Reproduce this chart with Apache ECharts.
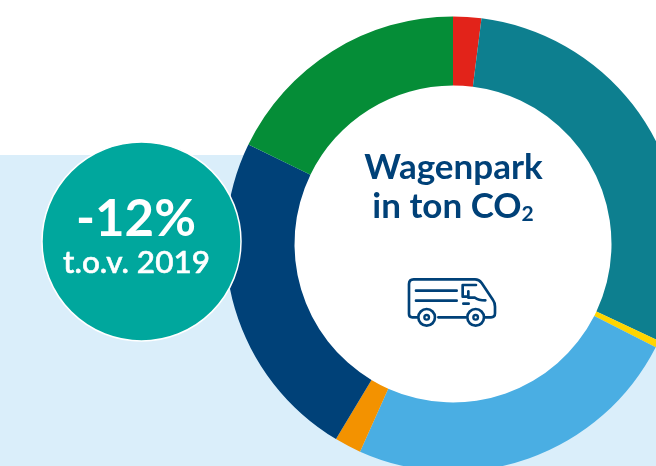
<!DOCTYPE html>
<html><head><meta charset="utf-8">
<style>html,body{margin:0;padding:0;background:#fff}#c{width:656px;height:466px}</style>
<script src="https://cdn.jsdelivr.net/npm/echarts@6/dist/echarts.min.js"></script>
</head><body><div id="c"></div>
<script>
const categories = ['Rood','Petrol','Geel','Lichtblauw','Oranje','Donkerblauw','Groen'];
const values = [2.0, 30.0, 0.5, 24.2, 1.9, 23.6, 17.8];
const colors = ['#E2231A','#0D7F8F','#FFD500','#4AAEE3','#F39200','#004178','#058D37'];
const titleLines = ['Wagenpark','in ton CO'];
const badgeBig = '-12%';
const badgeSmall = 't.o.v. 2019';
const NAVY = '#004178';
const vanPath = 'M232 562H217Q207 562 207 552V462Q207 448 221 448H405Q417 448 425 459L459 510Q465 518 465 530V550Q465 562 453 562H436M295 562H378M228 482H350M228 512H350M408 465H368V500H385V484M385 503H405Q415 511 436 511M370 521H386';
echarts.graphic.registerShape('vanIcon', echarts.graphic.extendPath(vanPath, {}));
const chart = echarts.init(document.getElementById('c'), null, {renderer:'canvas'});
const FONT = 'Lato';
const Z = 11;
chart.setOption({
  animation:false,
  backgroundColor:'#fff',
  graphic:{elements:[
    {type:'rect',z:0,silent:true,shape:{x:0,y:155,width:656,height:311},style:{fill:'#DAEEFA'}},
    {type:'circle',z:1,silent:true,shape:{cx:453,cy:244,r:159},style:{fill:'#fff'}},
    {type:'circle',z:10,silent:true,shape:{cx:141.5,cy:241.5,r:99.5},style:{fill:'#00A79D',stroke:'#fff',lineWidth:1.5}},
    {type:'text',z:Z,silent:true,x:136,y:220,style:{text:badgeBig,fill:'#fff',font:'700 51px '+FONT,align:'center',verticalAlign:'middle'}},
    {type:'text',z:Z,silent:true,x:136.5,y:263,style:{text:badgeSmall,fill:'#fff',stroke:'#fff',lineWidth:0.6,font:'500 31.5px '+FONT,align:'center',verticalAlign:'middle'}},
    {type:'text',z:Z,silent:true,x:453.5,y:168,style:{text:titleLines[0],fill:NAVY,font:'700 35px '+FONT,align:'center',verticalAlign:'middle'}},
    {type:'text',z:Z,silent:true,x:453,y:207,style:{text:'{a|'+titleLines[1]+'}{b|2}',align:'center',verticalAlign:'middle',rich:{a:{fill:NAVY,font:'700 35px '+FONT},b:{fill:NAVY,font:'700 21px '+FONT,verticalAlign:'bottom',padding:[8,0,0,0]}}}},
    {type:'group',z:Z,silent:true,x:340,y:130,scaleX:1/3,scaleY:1/3,children:[
      {type:'vanIcon',z:Z,style:{fill:'none',stroke:NAVY,lineWidth:8,lineCap:'round',lineJoin:'round'}},
      {type:'circle',z:Z,shape:{cx:260,cy:562,r:25},style:{fill:'none',stroke:NAVY,lineWidth:8}},
      {type:'circle',z:Z,shape:{cx:260,cy:562,r:7},style:{fill:'none',stroke:NAVY,lineWidth:7}},
      {type:'circle',z:Z,shape:{cx:407,cy:562,r:25},style:{fill:'none',stroke:NAVY,lineWidth:8}},
      {type:'circle',z:Z,shape:{cx:407,cy:562,r:7},style:{fill:'none',stroke:NAVY,lineWidth:7}}
    ]}
  ]},
  series:[{
    type:'pie',z:2,silent:true,
    center:[453,244],radius:[158.5,227.5],startAngle:90,clockwise:true,
    label:{show:false},labelLine:{show:false},
    data:categories.map((n,i)=>({name:n,value:values[i],itemStyle:{color:colors[i]}}))
  }]
});
</script></body></html>
